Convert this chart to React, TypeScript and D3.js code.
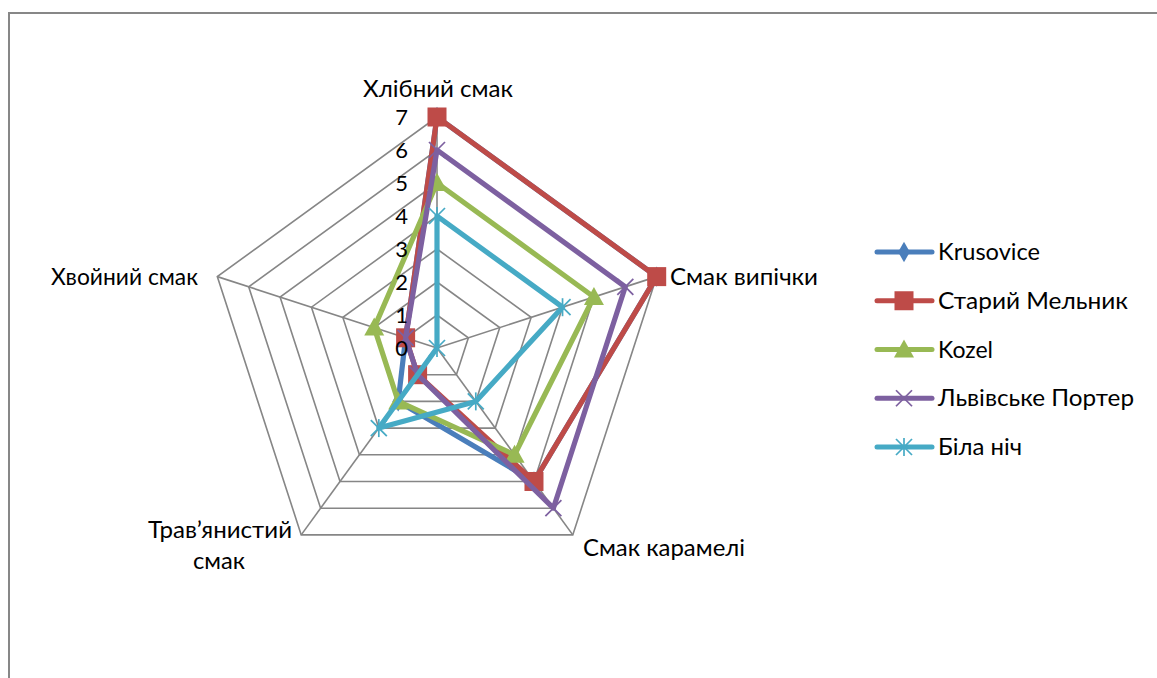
import React from "react";
import * as d3 from "d3";

// Taste profile scores (0–7) of five beers across five flavour axes
const axes = ["Хлібний смак", "Смак випічки", "Смак карамелі", "Трав’янистий смак", "Хвойний смак"];
const seriesNames = ["Krusovice", "Старий Мельник", "Kozel", "Львівське Портер", "Біла ніч"];
const krusovice = [7, 7, 5, 2, 1];
const stariyMelnyk = [7, 7, 5, 1, 1];
const kozel = [5, 5, 4, 2, 2];
const lvivskePorter = [6, 6, 6, 1, 1];
const bilaNich = [4, 4, 2, 3, 0];
const ticks = [0, 1, 2, 3, 4, 5, 6, 7];

const seriesValues = [krusovice, stariyMelnyk, kozel, lvivskePorter, bilaNich];
const colors = ["#4A7EBB", "#BE4B48", "#98B954", "#7D60A0", "#46AAC5"];
const markerKinds = ["diamond", "square", "triangle", "x", "star"];

const W = 1157;
const H = 678;
const cx = 437;
const cy = 348;
const R = 231;
const FONT = "Lato, 'Open Sans', sans-serif";

const r = d3.scaleLinear().domain([0, 7]).range([0, R]);
const angle = d3
  .scalePoint<string>()
  .domain(axes)
  .range([0, 2 * Math.PI * (axes.length - 1) / axes.length]);

const pt = (a: string, v: number): [number, number] => {
  const t = (angle(a) as number) - Math.PI / 2;
  return [cx + r(v) * Math.cos(t), cy + r(v) * Math.sin(t)];
};

function Marker({ kind, x, y, color }: { kind: string; x: number; y: number; color: string }) {
  if (kind === "diamond") {
    return <path d={d3.symbol().type(d3.symbolDiamond).size(120)()!} transform={`translate(${x},${y})`} fill={color} />;
  }
  if (kind === "square") {
    return <rect x={x - 9.5} y={y - 9.5} width={19} height={19} fill={color} />;
  }
  if (kind === "triangle") {
    return <path d={`M${x},${y - 10}L${x + 10},${y + 8}L${x - 10},${y + 8}Z`} fill={color} />;
  }
  const s = 8;
  const cross = (
    <>
      <line x1={x - s} y1={y - s} x2={x + s} y2={y + s} stroke={color} strokeWidth={1.7} />
      <line x1={x - s} y1={y + s} x2={x + s} y2={y - s} stroke={color} strokeWidth={1.7} />
    </>
  );
  if (kind === "x") return <g>{cross}</g>;
  return (
    <g>
      {cross}
      <line x1={x} y1={y - s - 1} x2={x} y2={y + s + 1} stroke={color} strokeWidth={1.7} />
    </g>
  );
}

function Label({ x, y, w, anchor = "start", children }: { x: number; y: number; w: number; anchor?: string; children: string }) {
  // fit text to a fixed run width, anchored at the given side
  const x0 = anchor === "middle" ? x - w / 2 : anchor === "end" ? x - w : x;
  return (
    <text x={x0} y={y} fontSize={23} textLength={w} lengthAdjust="spacingAndGlyphs" fill="#000">
      {children}
    </text>
  );
}

export default function App() {
  const radial = d3
    .line<[number, number]>()
    .x((d) => d[0])
    .y((d) => d[1])
    .curve(d3.curveLinearClosed);

  const gridRings = ticks.filter((t) => t > 0);

  const legendX = 877;
  const legendY = d3.scaleLinear().domain([0, 4]).range([252, 447]);
  const legendWidths = [102, 190, 55, 196, 84];

  return (
    <svg width={W} height={H} style={{ position: "absolute", left: 0, top: 0 }} fontFamily={FONT}>
      <rect x={0} y={0} width={W} height={H} fill="#fff" />
      {/* chart frame */}
      <path d={`M9,${H + 5}V13H${W + 5}`} fill="none" stroke="#878787" strokeWidth={2} />

      {/* grid */}
      {gridRings.map((t) => (
        <path key={t} d={radial(axes.map((a) => pt(a, t)))!} fill="none" stroke="#868686" strokeWidth={1.6} />
      ))}
      {axes.map((a) => {
        const [x, y] = pt(a, 7);
        return <line key={a} x1={cx} y1={cy} x2={x} y2={y} stroke="#868686" strokeWidth={1.6} />;
      })}

      {/* series */}
      {seriesValues.map((vals, i) => (
        <g key={seriesNames[i]}>
          <path
            d={radial(axes.map((a, j) => pt(a, vals[j])))!}
            fill="none"
            stroke={colors[i]}
            strokeWidth={5.2}
            strokeLinejoin="round"
          />
          {axes.map((a, j) => {
            const [x, y] = pt(a, vals[j]);
            return <Marker key={a} kind={markerKinds[i]} x={x} y={y} color={colors[i]} />;
          })}
        </g>
      ))}

      {/* radial tick labels */}
      {ticks.map((t) => (
        <text key={t} x={cx - 29} y={cy - r(t)} dy="0.36em" textAnchor="end" fontSize={22} fill="#000">
          {t}
        </text>
      ))}

      {/* axis labels */}
      <Label x={438} y={97} w={150} anchor="middle">{axes[0]}</Label>
      <Label x={670} y={285} w={148}>{axes[1]}</Label>
      <Label x={583} y={556} w={162}>{axes[2]}</Label>
      <Label x={220} y={538} w={144} anchor="middle">Трав’янистий</Label>
      <Label x={219} y={569} w={52} anchor="middle">смак</Label>
      <Label x={198} y={285} w={147} anchor="end">{axes[4]}</Label>

      {/* legend */}
      {seriesNames.map((name, i) => {
        const y = legendY(i);
        return (
          <g key={name}>
            <line x1={legendX} y1={y} x2={legendX + 55} y2={y} stroke={colors[i]} strokeWidth={5} strokeLinecap="round" />
            <Marker kind={markerKinds[i]} x={legendX + 27} y={y} color={colors[i]} />
            <Label x={legendX + 61} y={y + 8} w={legendWidths[i]}>{name}</Label>
          </g>
        );
      })}
    </svg>
  );
}
